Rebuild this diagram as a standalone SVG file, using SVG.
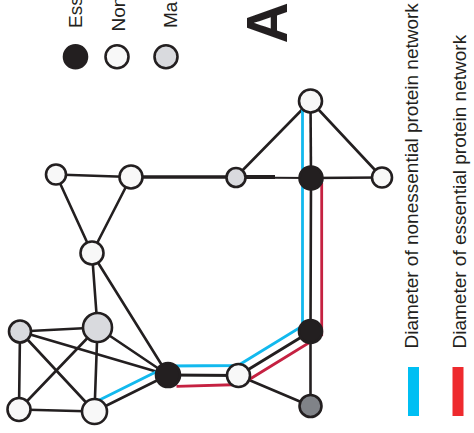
<svg xmlns="http://www.w3.org/2000/svg" width="474" height="433" viewBox="0 0 474 433">
<style>
.e line{stroke:#231f20;stroke-width:2.6;stroke-linecap:round}
.blue{fill:none;stroke:#12b9ee;stroke-width:2.8}
.red{fill:none;stroke:#c52141;stroke-width:2.8}
circle{stroke:#231f20;stroke-width:2.6}
.ess{fill:#231f20}
.non{fill:#f8f8f8}
.maj{fill:#d9dade}
.dk{fill:#808388}
.lbl{font-family:"Liberation Sans",Arial,sans-serif;font-size:19px;fill:#231f20}
</style>
<rect width="474" height="433" fill="#ffffff"/>
<g id="connectors">
<g class="e">
<line x1="56" y1="174.5" x2="131" y2="177"/>
<line x1="56" y1="174.5" x2="92" y2="253"/>
<line x1="131" y1="177" x2="92" y2="253"/>
<line x1="131" y1="177" x2="236" y2="177" style="stroke-width:3.3"/>
<line x1="236" y1="177.5" x2="311" y2="178" style="stroke-width:2.2"/>
<line x1="236" y1="177" x2="275" y2="177" style="stroke-width:4;stroke-linecap:butt"/>
<line x1="236" y1="177" x2="310.5" y2="101"/>
<line x1="310.5" y1="101" x2="311" y2="178"/>
<line x1="310.5" y1="101" x2="382" y2="177.5"/>
<line x1="311" y1="178" x2="382" y2="177.5"/>
<line x1="311" y1="178" x2="310.5" y2="331.5"/>
<line x1="92" y1="253" x2="97.5" y2="327.5"/>
<line x1="92" y1="253" x2="168" y2="375"/>
<line x1="20" y1="331.5" x2="97.5" y2="327.5"/>
<line x1="20" y1="331.5" x2="19" y2="409.5"/>
<line x1="20" y1="331.5" x2="94.5" y2="411.5"/>
<line x1="20" y1="331.5" x2="168" y2="375"/>
<line x1="97.5" y1="327.5" x2="19" y2="409.5"/>
<line x1="97.5" y1="327.5" x2="168" y2="375"/>
<line x1="97.5" y1="327.5" x2="94.5" y2="411.5"/>
<line x1="19" y1="409.5" x2="94.5" y2="411.5"/>
<line x1="94.5" y1="411.5" x2="168" y2="375"/>
<line x1="168" y1="375" x2="238.5" y2="375.5" style="stroke-width:3"/>
<line x1="238.5" y1="375.5" x2="310.5" y2="331.5" style="stroke-width:3"/>
<line x1="238.5" y1="375.5" x2="310.5" y2="406"/>
<line x1="310.5" y1="331.5" x2="310.5" y2="406"/>
</g>
<polyline class="blue" points="90.9,404.3 168,366 238,365.5 302.5,326 302.5,103"/>
<polyline class="red" points="176.5,386.3 241,384.5 321.7,335 321.7,183"/>
</g>
<g id="n1"><circle class="non" cx="56" cy="174.5" r="10"/></g>
<g id="n2"><circle class="non" cx="131" cy="177" r="11.5"/></g>
<g id="n3"><circle class="non" cx="92" cy="253" r="11.5"/></g>
<g id="n4"><circle class="maj" cx="236" cy="177.5" r="9.5"/></g>
<g id="n5"><circle class="non" cx="310.5" cy="101" r="11.5"/></g>
<g id="n6"><circle class="ess" cx="311" cy="178" r="11.5"/></g>
<g id="n7"><circle class="non" cx="382" cy="177.5" r="10"/></g>
<g id="n8"><circle class="maj" cx="20" cy="331.5" r="11"/></g>
<g id="n9"><circle class="maj" cx="97.5" cy="327.5" r="14.5"/></g>
<g id="n10"><circle class="non" cx="19" cy="409.5" r="11.5"/></g>
<g id="n11"><circle class="non" cx="94.5" cy="411.5" r="12.5"/></g>
<g id="n12"><circle class="ess" cx="168" cy="375" r="12"/></g>
<g id="n13"><circle class="non" cx="238.5" cy="375.5" r="11.5"/></g>
<g id="n14"><circle class="ess" cx="310.5" cy="331.5" r="11.5"/></g>
<g id="n15"><circle class="dk" cx="310.5" cy="406" r="11"/></g>
<g id="legend">
<circle class="ess" cx="75.5" cy="56.7" r="11.5"/>
<circle class="non" cx="117" cy="56.8" r="11.5"/>
<circle class="maj" cx="166" cy="56.8" r="11.5"/>
<text class="lbl" transform="translate(81.7,28) rotate(-90)">Ess</text>
<text class="lbl" transform="translate(125,31.5) rotate(-90)">Non</text>
<text class="lbl" transform="translate(177,28) rotate(-90)">Ma</text>
<text transform="translate(287,43.5) rotate(-90)" style="font-family:'Liberation Sans',Arial,sans-serif;font-weight:bold;font-size:57px;fill:#231f20">A</text>
<rect x="408" y="367" width="11" height="49" fill="#00bff3"/>
<rect x="452.5" y="367" width="11" height="49" fill="#ee2a2e"/>
<text class="lbl" transform="translate(418.3,348.5) rotate(-90)">Diameter of nonessential protein network</text>
<text class="lbl" transform="translate(466,348.5) rotate(-90)">Diameter of essential protein network</text>
</g>
</svg>
